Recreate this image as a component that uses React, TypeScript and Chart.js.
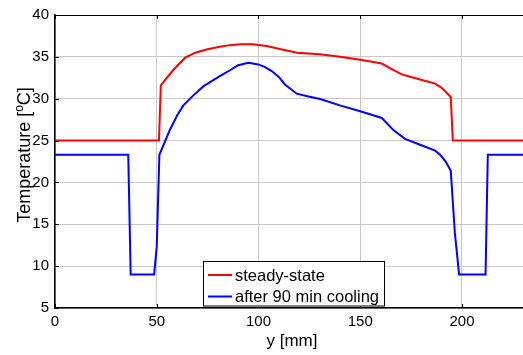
import React, { useEffect, useRef } from "react";
import { Chart, registerables } from "chart.js";
Chart.register(...registerables);

const steadyX = [0, 51.1, 52, 58, 64, 69, 75, 81, 86, 91, 97, 104, 111, 119, 130, 140, 150, 160.6, 165, 170.4, 175, 179.4, 186.8, 190, 194.5, 195.5, 230];
const steadyY = [25, 25, 31.6, 33.4, 34.9, 35.5, 35.9, 36.2, 36.4, 36.5, 36.5, 36.3, 35.9, 35.5, 35.3, 35.0, 34.65, 34.2, 33.6, 32.9, 32.6, 32.3, 31.8, 31.3, 30.2, 25, 25];

const coolX = [0, 36, 37.2, 48.7, 50, 51.3, 56.5, 60, 63.1, 68, 73, 77, 81, 86, 90, 95, 99.9, 103, 106.5, 110, 113, 118.8, 124, 130.3, 140, 150, 160.6, 163, 166.3, 172, 179.4, 186.8, 189.3, 192, 194.5, 196.5, 198.6, 211.6, 212.7, 230];
const coolY = [23.3, 23.3, 9, 9, 12.3, 23.3, 26.3, 28, 29.2, 30.4, 31.5, 32.1, 32.7, 33.4, 34, 34.3, 34.1, 33.8, 33.3, 32.6, 31.7, 30.6, 30.3, 29.96, 29.2, 28.5, 27.7, 27.1, 26.25, 25.2, 24.5, 23.8, 23.3, 22.5, 21.4, 14, 9, 9, 23.3, 23.3];

const xTicks = [0, 50, 100, 150, 200];
const yTicks = [5, 10, 15, 20, 25, 30, 35, 40];
const seriesLabels = ["steady-state", "after 90 min cooling"];
const seriesColors = ["#ff0000", "#0000ff"];
const xTitle = "y [mm]";
const yTitleParts = ["Temperature [", "o", "C]"];

const FONT = "'Liberation Sans', Arial, sans-serif";

const decorPlugin = {
  id: "decor",
  afterDraw(chart: any) {
    const { ctx, chartArea } = chart;
    const xs = chart.scales.x;
    const ys = chart.scales.y;
    ctx.save();
    // top border
    ctx.strokeStyle = "#000";
    ctx.lineWidth = 1;
    ctx.beginPath();
    ctx.moveTo(chartArea.left, chartArea.top + 0.5);
    ctx.lineTo(chartArea.right, chartArea.top + 0.5);
    ctx.stroke();
    // inward tick marks
    xTicks.forEach((v) => {
      const px = Math.round(xs.getPixelForValue(v)) + 0.5;
      ctx.beginPath();
      ctx.moveTo(px, chartArea.bottom);
      ctx.lineTo(px, chartArea.bottom - 4);
      ctx.moveTo(px, chartArea.top);
      ctx.lineTo(px, chartArea.top + 4);
      ctx.stroke();
    });
    yTicks.forEach((v) => {
      const py = Math.round(ys.getPixelForValue(v)) + 0.5;
      ctx.beginPath();
      ctx.moveTo(chartArea.left, py);
      ctx.lineTo(chartArea.left + 4, py);
      ctx.stroke();
    });
    // axis titles
    ctx.fillStyle = "#000";
    ctx.font = `17px ${FONT}`;
    ctx.textAlign = "center";
    ctx.textBaseline = "middle";
    ctx.fillText(xTitle, 292, 341);
    // y title with superscript
    ctx.save();
    ctx.translate(30, 155);
    ctx.rotate(-Math.PI / 2);
    ctx.textAlign = "left";
    ctx.textBaseline = "alphabetic";
    const big = `18px ${FONT}`;
    const small = `12px ${FONT}`;
    ctx.font = big;
    const w0 = ctx.measureText(yTitleParts[0]).width;
    const w2 = ctx.measureText(yTitleParts[2]).width;
    ctx.font = small;
    const w1 = ctx.measureText(yTitleParts[1]).width;
    const total = w0 + w1 + w2;
    let cx = -total / 2;
    ctx.font = big;
    ctx.fillText(yTitleParts[0], cx, 0);
    cx += w0;
    ctx.font = small;
    ctx.fillText(yTitleParts[1], cx, -7);
    cx += w1;
    ctx.font = big;
    ctx.fillText(yTitleParts[2], cx, 0);
    ctx.restore();
    // legend box
    const bx = 203, by = 261.5, bw = 181, bh = 44.5;
    ctx.fillStyle = "#fff";
    ctx.fillRect(bx, by, bw, bh);
    ctx.strokeStyle = "#000";
    ctx.lineWidth = 1;
    ctx.strokeRect(bx + 0.5, by, bw, bh);
    ctx.font = `16.5px ${FONT}`;
    ctx.textAlign = "left";
    ctx.textBaseline = "middle";
    const rows = [275, 296.5];
    seriesLabels.forEach((lab, i) => {
      ctx.strokeStyle = seriesColors[i];
      ctx.lineWidth = 2;
      ctx.beginPath();
      ctx.moveTo(208, rows[i]);
      ctx.lineTo(232, rows[i]);
      ctx.stroke();
      ctx.fillStyle = "#000";
      ctx.fillText(lab, 235, rows[i] + 1);
    });
    ctx.restore();
  },
};

export default function App() {
  const ref = useRef<HTMLCanvasElement | null>(null);
  useEffect(() => {
    if (!ref.current) return;
    const chart = new Chart(ref.current, {
      type: "line",
      data: {
        datasets: [
          {
            label: seriesLabels[0],
            data: steadyX.map((x, i) => ({ x, y: steadyY[i] })),
            borderColor: seriesColors[0],
            borderWidth: 2,
            pointRadius: 0,
            tension: 0,
            fill: false,
          },
          {
            label: seriesLabels[1],
            data: coolX.map((x, i) => ({ x, y: coolY[i] })),
            borderColor: seriesColors[1],
            borderWidth: 2,
            pointRadius: 0,
            tension: 0,
            fill: false,
          },
        ],
      },
      options: {
        animation: false,
        responsive: true,
        maintainAspectRatio: false,
        layout: { padding: { top: 9, left: 0, right: 0, bottom: 0 } },
        plugins: { legend: { display: false }, tooltip: { enabled: false } },
        scales: {
          x: {
            type: "linear",
            min: 0,
            max: 230,
            afterBuildTicks: (s: any) => {
              s.ticks = xTicks.map((v) => ({ value: v }));
            },
            afterFit: (s: any) => {
              s.height = 47;
            },
            grid: { color: "#c8c8c8", lineWidth: 1, drawTicks: false },
            border: { color: "#000", width: 1.5 },
            ticks: {
              color: "#000",
              font: { family: FONT, size: 15 },
              padding: 5,
              maxRotation: 0,
            },
          },
          y: {
            type: "linear",
            min: 5,
            max: 40,
            afterBuildTicks: (s: any) => {
              s.ticks = yTicks.map((v) => ({ value: v }));
            },
            afterFit: (s: any) => {
              s.width = 55;
            },
            grid: { color: "#c8c8c8", lineWidth: 1, drawTicks: false },
            border: { color: "#000", width: 1.5 },
            ticks: {
              color: "#000",
              font: { family: FONT, size: 15 },
              padding: 6,
            },
          },
        },
      },
      plugins: [decorPlugin],
    });
    return () => chart.destroy();
  }, []);
  return (
    <div style={{ position: "absolute", left: 0, top: 0, width: 523, height: 355, background: "#fff" }}>
      <canvas ref={ref} />
    </div>
  );
}
